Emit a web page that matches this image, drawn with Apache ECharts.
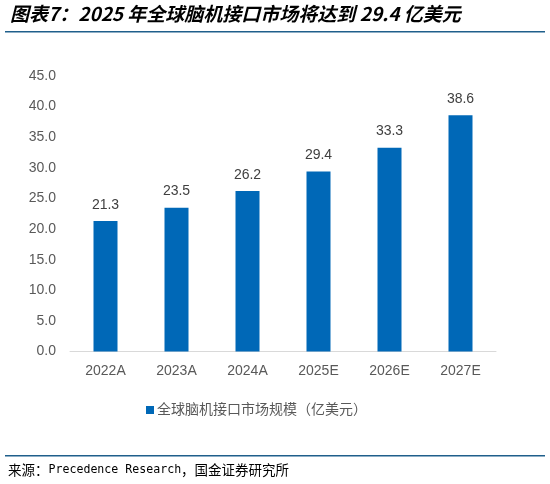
<!DOCTYPE html>
<html>
<head>
<meta charset="utf-8">
<script src="https://cdn.jsdelivr.net/npm/echarts@6/dist/echarts.min.js"></script>
<style>
  html, body { margin: 0; padding: 0; background: #fff; }
  #chart { width: 550px; height: 484px; }
</style>
</head>
<body>
<div id="chart"></div>
<script>
  const categories = ["2022A", "2023A", "2024A", "2025E", "2026E", "2027E"];
  const marketSize = [21.3, 23.5, 26.2, 29.4, 33.3, 38.6];
  const seriesName = "全球脑机接口市场规模（亿美元）";
  const titleText = "图表7：2025 年全球脑机接口市场将达到 29.4 亿美元";

  const chart = echarts.init(document.getElementById("chart"), null, { renderer: "canvas" });
  const labelFont = "Arial, 'Liberation Sans', 'Noto Sans CJK SC', sans-serif";

  chart.setOption({
    animation: false,
    textStyle: { fontFamily: labelFont },
    grid: { left: 70, right: 54, top: 76, bottom: 132.5 },
    legend: {
      data: [seriesName],
      left: 141,
      top: 398,
      icon: "rect",
      itemWidth: 8,
      itemHeight: 8,
      itemGap: 4,
      textStyle: { fontSize: 14, color: "#595959", fontFamily: labelFont, padding: [0, 0, 0, -2] }
    },
    xAxis: {
      type: "category",
      data: categories,
      axisLine: { lineStyle: { color: "#d9d9d9", width: 1 } },
      axisTick: { inside: true, length: 4, lineStyle: { color: "#d9d9d9" } },
      axisLabel: { fontSize: 14, color: "#595959", margin: 13 }
    },
    yAxis: {
      type: "value",
      min: 0,
      max: 45,
      interval: 5,
      axisLine: { show: false },
      axisTick: { show: false },
      splitLine: { show: false },
      axisLabel: {
        fontSize: 14,
        color: "#595959",
        margin: 14,
        formatter: (v) => v.toFixed(1)
      }
    },
    series: [
      {
        name: seriesName,
        type: "bar",
        data: marketSize,
        barWidth: 24,
        itemStyle: { color: "#0068b7" },
        label: {
          show: true,
          position: "top",
          distance: 9,
          fontSize: 14,
          color: "#404040",
          formatter: (p) => p.value.toFixed(1)
        }
      }
    ],
    graphic: [
      {
        type: "text",
        left: 10,
        top: 4,
        style: {
          text: titleText,
          font: "italic bold 19px 'Noto Sans CJK SC', sans-serif",
          fill: "#000"
        }
      },
      {
        type: "rect",
        shape: { x: 5, y: 31, width: 540, height: 1.5 },
        style: { fill: "#1f5f8b" }
      },
      {
        type: "rect",
        shape: { x: 5, y: 455, width: 540, height: 1.5 },
        style: { fill: "#1f5f8b" }
      },
      {
        type: "text",
        left: 8,
        top: 463,
        style: {
          text: "{a|来源：}{b|Precedence Research}{a|，国金证券研究所}",
          rich: {
            a: { fontSize: 13.5, fontFamily: "'Noto Sans CJK SC', sans-serif", fill: "#000" },
            b: { fontSize: 11.6, fontFamily: "'DejaVu Sans Mono', monospace", fill: "#000" }
          }
        }
      }
    ]
  });
</script>
</body>
</html>
